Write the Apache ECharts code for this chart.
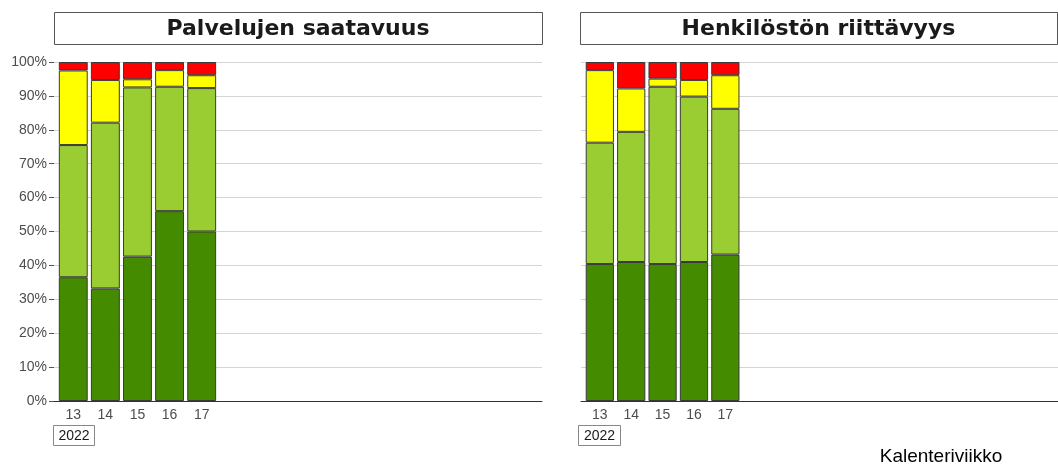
<!DOCTYPE html>
<html>
<head>
<meta charset="utf-8">
<script src="https://cdn.jsdelivr.net/npm/echarts@6/dist/echarts.min.js"></script>
<style>html,body{margin:0;padding:0;background:#fff}#c{width:1058px;height:464px}</style>
</head>
<body>
<div id="c"></div>
<script>
// ---- data ----
const weekCategories = ['13', '14', '15', '16', '17', '18', '19', '20', '21', '22', '23', '24', '25', '26', '27'];
const shownWeeks = ['13', '14', '15', '16', '17'];
const yearLabel = '2022';
const panelTitles = ['Palvelujen saatavuus', 'Henkilöstön riittävyys'];
const xAxisName = 'Kalenteriviikko';
const levelColors = ['#458B00', '#9ACD32', '#FFFF00', '#FF0000'];
const palvDark   = [36.5, 33.2, 42.6, 56.0, 50.0];
const palvLight  = [39.0, 48.9, 49.9, 36.7, 42.3];
const palvYellow = [22.0, 12.6, 2.4, 4.9, 3.8];
const palvRed    = [2.5, 5.3, 5.1, 2.4, 3.9];
const henkDark   = [40.4, 41.0, 40.4, 41.0, 43.2];
const henkLight  = [35.8, 38.4, 52.3, 48.8, 43.0];
const henkYellow = [21.4, 12.8, 2.4, 4.9, 9.9];
const henkRed    = [2.4, 7.8, 4.9, 5.3, 3.9];

const panels = [
  [palvDark, palvLight, palvYellow, palvRed],
  [henkDark, henkLight, henkYellow, henkRed]
];

const chart = echarts.init(document.getElementById('c'), null, {renderer: 'canvas'});
const labelFont = 'Liberation Sans, Arial, sans-serif';
// background panels (gridlines, axes) and bar areas (ggplot-style 0.6 expansion)
const panelBox = [{left: 54, width: 488}, {left: 581, width: 477}];
const grids = [];
panelBox.forEach(pb => grids.push({left: pb.left, top: 62, width: pb.width, height: 339}));
panelBox.forEach(pb => {
  const slot = pb.width / 15.2;
  grids.push({left: pb.left + 0.1 * slot, top: 62, width: slot * 15, height: 339});
});

const xAxes = [], yAxes = [];
[0, 1].forEach(i => {
  xAxes.push({type: 'value', gridIndex: i, min: 0, max: 1,
    axisLine: {show: true, onZero: false, lineStyle: {color: '#333', width: 1}},
    axisTick: {show: false}, splitLine: {show: false}, axisLabel: {show: false}});
  yAxes.push({type: 'value', gridIndex: i, min: 0, max: 100, interval: 10,
    axisLine: {show: false},
    axisTick: {show: i === 0, length: 5, lineStyle: {color: '#555'}},
    splitLine: {show: true, lineStyle: {color: '#d4d4d4', width: 1}},
    axisLabel: {show: i === 0, formatter: '{value}%', color: '#4d4d4d', fontSize: 14, fontFamily: labelFont, margin: 7}});
});
[2, 3].forEach(i => {
  xAxes.push({type: 'category', gridIndex: i, data: weekCategories, boundaryGap: true,
    axisLine: {show: false}, axisTick: {show: false}, splitLine: {show: false},
    axisLabel: {interval: 0, color: '#4d4d4d', fontSize: 14, fontFamily: labelFont, margin: 7,
      formatter: v => shownWeeks.indexOf(v) >= 0 ? v : ''}});
  yAxes.push({type: 'value', gridIndex: i, min: 0, max: 100, interval: 10,
    axisLine: {show: false}, axisTick: {show: false}, splitLine: {show: false}, axisLabel: {show: false}});
});

const series = [];
panels.forEach((levels, p) => {
  levels.forEach((vals, l) => {
    series.push({
      type: 'bar', xAxisIndex: p + 2, yAxisIndex: p + 2, stack: 'p' + p,
      barWidth: '90%',
      itemStyle: {color: levelColors[l], borderColor: '#3a3a3a', borderWidth: 1},
      data: vals.slice()
    });
  });
});

const graphic = [];
const strips = [{x: 54, w: 488}, {x: 580, w: 477}];
strips.forEach((s, i) => {
  graphic.push({type: 'rect', shape: {x: s.x + 0.5, y: 12.5, width: s.w, height: 32},
    style: {fill: '#fff', stroke: '#555', lineWidth: 1}});
  graphic.push({type: 'text', x: s.x + s.w / 2, y: 29,
    style: {text: panelTitles[i], font: 'bold 22px "DejaVu Sans", sans-serif', fill: '#1a1a1a',
      textAlign: 'center', textVerticalAlign: 'middle'}});
});
[{x: 53, w: 41}, {x: 578, w: 42}].forEach(b => {
  graphic.push({type: 'rect', shape: {x: b.x + 0.5, y: 425.5, width: b.w, height: 20},
    style: {fill: '#fff', stroke: '#888', lineWidth: 1}});
  graphic.push({type: 'text', x: b.x + b.w / 2 + 0.5, y: 436,
    style: {text: yearLabel, font: '14px ' + labelFont, fill: '#1a1a1a',
      textAlign: 'center', textVerticalAlign: 'middle'}});
});
graphic.push({type: 'text', x: 941, y: 457,
  style: {text: xAxisName, font: '19px ' + labelFont, fill: '#000',
    textAlign: 'center', textVerticalAlign: 'middle'}});

chart.setOption({
  animation: false,
  grid: grids,
  xAxis: xAxes,
  yAxis: yAxes,
  series: series,
  graphic: graphic
});
</script>
</body>
</html>
